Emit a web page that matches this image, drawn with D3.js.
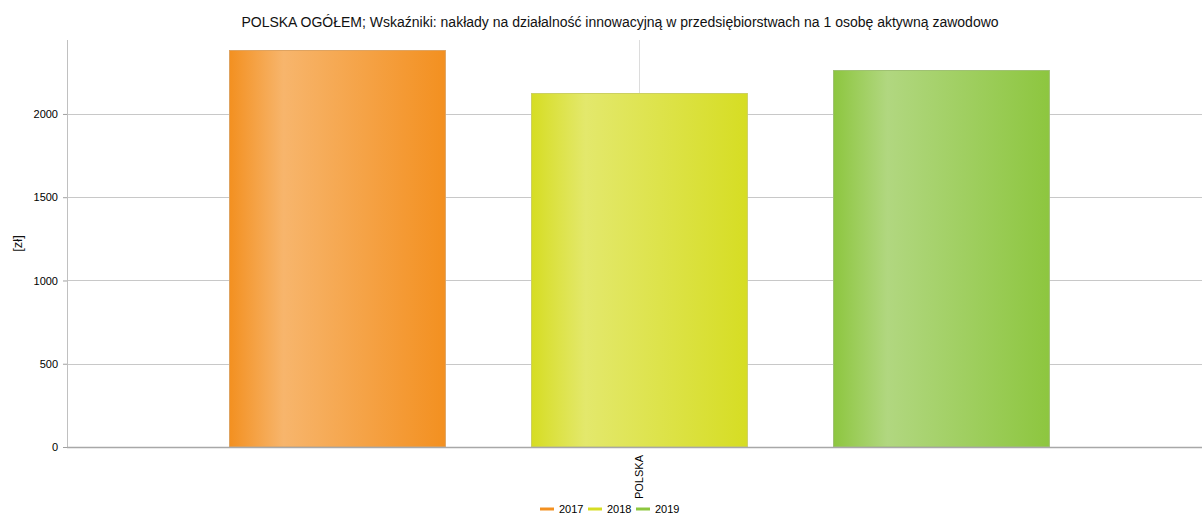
<!DOCTYPE html>
<html>
<head>
<meta charset="utf-8">
<script src="https://cdn.jsdelivr.net/npm/d3@7"></script>
<style>
  html, body { margin: 0; padding: 0; background: #fff; }
  svg { display: block; font-family: "Liberation Sans", Arial, sans-serif; }
</style>
</head>
<body>
<svg id="chart" width="1202" height="516"></svg>
<script>
// Chart data
const title = "POLSKA OGÓŁEM; Wskaźniki: nakłady na działalność innowacyjną w przedsiębiorstwach na 1 osobę aktywną zawodowo";
const yLabel = "[zł]";
const categories = ["POLSKA"];
const years = ["2017", "2018", "2019"];
const values = [2384, 2126, 2264];
const yTicks = [0, 500, 1000, 1500, 2000];
const colors = ["#F39020", "#D6DD23", "#8DC63F"];
const lightColors = ["#F7B56C", "#E3E86C", "#B1D780"];

const svg = d3.select("#chart");
const margin = { top: 40, right: 0, bottom: 69, left: 67 };
const W = 1202, H = 516;
const innerW = W - margin.left - margin.right;
const innerH = H - margin.top - margin.bottom;

const g = svg.append("g").attr("transform", `translate(${margin.left},${margin.top})`);

const y = d3.scaleLinear().domain([0, 2444]).range([innerH, 0]);
const x0 = d3.scaleBand().domain(categories).range([9, innerW]);
const x1 = d3.scaleBand().domain(years).range([0, x0.bandwidth()])
  .paddingInner(0.285).paddingOuter(0.507);

// Gradients for the bars
const defs = svg.append("defs");
years.forEach((yr, i) => {
  const grad = defs.append("linearGradient")
    .attr("id", "grad" + yr).attr("x1", "0%").attr("x2", "100%").attr("y1", "0%").attr("y2", "0%");
  grad.append("stop").attr("offset", "0%").attr("stop-color", colors[i]);
  grad.append("stop").attr("offset", "25%").attr("stop-color", lightColors[i]);
  grad.append("stop").attr("offset", "100%").attr("stop-color", colors[i]);
});

// Horizontal grid lines
g.selectAll(".hgrid").data(yTicks.filter(d => d > 0)).enter().append("line")
  .attr("x1", 0).attr("x2", innerW)
  .attr("y1", d => Math.round(y(d)) + 0.5).attr("y2", d => Math.round(y(d)) + 0.5)
  .attr("stroke", "#c8c8c8").attr("stroke-width", 1);

// Category grid line
categories.forEach(c => {
  const cx = Math.round(x0(c) + x0.bandwidth() / 2) + 0.5;
  g.append("line").attr("x1", cx).attr("x2", cx).attr("y1", 0).attr("y2", innerH)
    .attr("stroke", "#dcdcdc").attr("stroke-width", 1);
});

// Bars
categories.forEach(c => {
  const grp = g.append("g").attr("transform", `translate(${x0(c)},0)`);
  grp.selectAll("rect").data(years).enter().append("rect")
    .attr("x", d => Math.round(x1(d)) + 0.5)
    .attr("y", (d, i) => Math.round(y(values[i])) + 0.5)
    .attr("width", x1.bandwidth())
    .attr("height", (d, i) => innerH - Math.round(y(values[i])) - 0.5)
    .attr("fill", d => `url(#grad${d})`)
    .attr("stroke", (d, i) => d3.color(lightColors[i]).darker(0.3))
    .attr("stroke-width", 1);
});

// Y axis
const yAxis = d3.axisLeft(y).tickValues(yTicks).tickSize(4).tickPadding(5).tickFormat(d3.format("d"));
const ya = g.append("g").call(yAxis);
ya.select(".domain").attr("stroke", "#c0c0c0").attr("d", `M0.5,0V${innerH}`);
ya.selectAll(".tick line").attr("stroke", "#a0a0a0");
ya.selectAll(".tick text").attr("font-size", 11).attr("fill", "#000")
  .attr("font-family", "Liberation Sans, Arial, sans-serif");

// Baseline
g.append("line").attr("x1", 0).attr("x2", innerW).attr("y1", innerH + 0.5).attr("y2", innerH + 0.5)
  .attr("stroke", "#a8a8a8").attr("stroke-width", 1.5);

// Category labels (rotated)
categories.forEach(c => {
  const cx = x0(c) + x0.bandwidth() / 2;
  g.append("text")
    .attr("transform", `translate(${cx + 4},${innerH + 8}) rotate(-90)`)
    .attr("text-anchor", "end")
    .attr("font-size", 11).attr("fill", "#000")
    .text(c);
});

// Title
svg.append("text").attr("x", 620).attr("y", 27).attr("text-anchor", "middle")
  .attr("font-size", 14).attr("fill", "#111").text(title);

// Y label
svg.append("text").attr("transform", `translate(22,${margin.top + innerH / 2}) rotate(-90)`)
  .attr("text-anchor", "middle").attr("font-size", 13).attr("fill", "#111").text(yLabel);

// Legend
const legend = svg.append("g").attr("transform", "translate(540,509)");
let lx = 0;
years.forEach((yr, i) => {
  legend.append("line").attr("x1", lx).attr("x2", lx + 14).attr("y1", 0).attr("y2", 0)
    .attr("stroke", colors[i]).attr("stroke-width", 3);
  legend.append("text").attr("x", lx + 19).attr("y", 4).attr("font-size", 11).attr("fill", "#000").text(yr);
  lx += 48;
});
</script>
</body>
</html>
